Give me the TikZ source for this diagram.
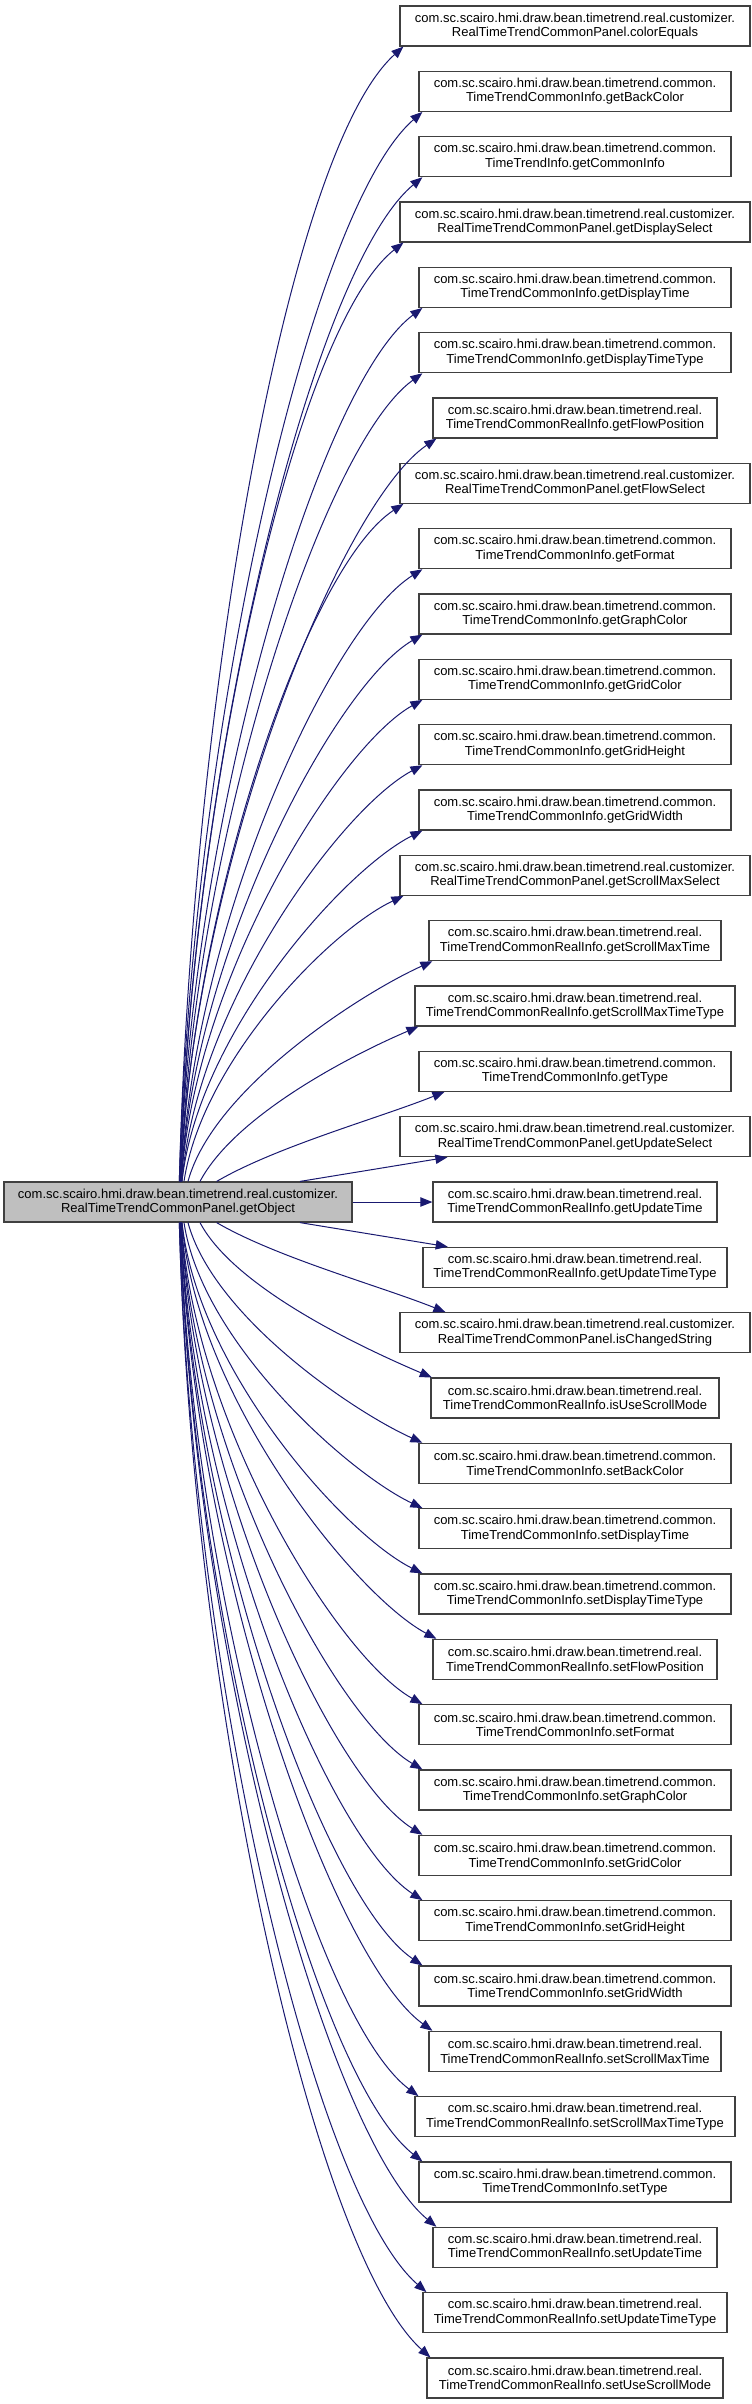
\documentclass[tikz,border=0pt]{standalone}
\usepackage{fontspec}
\setmainfont{Liberation Sans}
\usetikzlibrary{arrows.meta}
\definecolor{callblue}{HTML}{191970}
\definecolor{srcgray}{HTML}{BFBFBF}
\newcommand\fnfont{\fontsize{9.75}{10.75}\selectfont}
\tikzset{
  fn/.style={draw=black!75, line width=0.9pt, fill=white, align=center, inner sep=0pt,
    minimum height=30pt, minimum width=#1, font=\fnfont},
  src/.style={fn=261pt, fill=srcgray},
  call/.style={draw=callblue, line width=0.75pt, -{Triangle[length=9pt,width=7pt,fill=callblue]}}
}
\begin{document}
\begin{tikzpicture}[x=0.75pt,y=-0.75pt]
\useasboundingbox (0,0) rectangle (752,2404);
\node[src] (src) at (178,1202) {com.sc.scairo.hmi.draw.bean.timetrend.real.customizer.\\RealTimeTrendCommonPanel.getObject};
\node[fn=262.5pt] (t0) at (575,26) {com.sc.scairo.hmi.draw.bean.timetrend.real.customizer.\\RealTimeTrendCommonPanel.colorEquals};
\node[fn=234pt] (t1) at (575,91.33) {com.sc.scairo.hmi.draw.bean.timetrend.common.\\TimeTrendCommonInfo.getBackColor};
\node[fn=234pt] (t2) at (575,156.67) {com.sc.scairo.hmi.draw.bean.timetrend.common.\\TimeTrendInfo.getCommonInfo};
\node[fn=262.5pt] (t3) at (575,222) {com.sc.scairo.hmi.draw.bean.timetrend.real.customizer.\\RealTimeTrendCommonPanel.getDisplaySelect};
\node[fn=234pt] (t4) at (575,287.33) {com.sc.scairo.hmi.draw.bean.timetrend.common.\\TimeTrendCommonInfo.getDisplayTime};
\node[fn=234pt] (t5) at (575,352.67) {com.sc.scairo.hmi.draw.bean.timetrend.common.\\TimeTrendCommonInfo.getDisplayTimeType};
\node[fn=213pt] (t6) at (575,418) {com.sc.scairo.hmi.draw.bean.timetrend.real.\\TimeTrendCommonRealInfo.getFlowPosition};
\node[fn=262.5pt] (t7) at (575,483.33) {com.sc.scairo.hmi.draw.bean.timetrend.real.customizer.\\RealTimeTrendCommonPanel.getFlowSelect};
\node[fn=234pt] (t8) at (575,548.67) {com.sc.scairo.hmi.draw.bean.timetrend.common.\\TimeTrendCommonInfo.getFormat};
\node[fn=234pt] (t9) at (575,614) {com.sc.scairo.hmi.draw.bean.timetrend.common.\\TimeTrendCommonInfo.getGraphColor};
\node[fn=234pt] (t10) at (575,679.33) {com.sc.scairo.hmi.draw.bean.timetrend.common.\\TimeTrendCommonInfo.getGridColor};
\node[fn=234pt] (t11) at (575,744.67) {com.sc.scairo.hmi.draw.bean.timetrend.common.\\TimeTrendCommonInfo.getGridHeight};
\node[fn=234pt] (t12) at (575,810) {com.sc.scairo.hmi.draw.bean.timetrend.common.\\TimeTrendCommonInfo.getGridWidth};
\node[fn=262.5pt] (t13) at (575,875.33) {com.sc.scairo.hmi.draw.bean.timetrend.real.customizer.\\RealTimeTrendCommonPanel.getScrollMaxSelect};
\node[fn=219pt] (t14) at (575,940.67) {com.sc.scairo.hmi.draw.bean.timetrend.real.\\TimeTrendCommonRealInfo.getScrollMaxTime};
\node[fn=240pt] (t15) at (575,1006) {com.sc.scairo.hmi.draw.bean.timetrend.real.\\TimeTrendCommonRealInfo.getScrollMaxTimeType};
\node[fn=234pt] (t16) at (575,1071.33) {com.sc.scairo.hmi.draw.bean.timetrend.common.\\TimeTrendCommonInfo.getType};
\node[fn=262.5pt] (t17) at (575,1136.67) {com.sc.scairo.hmi.draw.bean.timetrend.real.customizer.\\RealTimeTrendCommonPanel.getUpdateSelect};
\node[fn=213pt] (t18) at (575,1202) {com.sc.scairo.hmi.draw.bean.timetrend.real.\\TimeTrendCommonRealInfo.getUpdateTime};
\node[fn=228pt] (t19) at (575,1267.33) {com.sc.scairo.hmi.draw.bean.timetrend.real.\\TimeTrendCommonRealInfo.getUpdateTimeType};
\node[fn=262.5pt] (t20) at (575,1332.67) {com.sc.scairo.hmi.draw.bean.timetrend.real.customizer.\\RealTimeTrendCommonPanel.isChangedString};
\node[fn=216pt] (t21) at (575,1398) {com.sc.scairo.hmi.draw.bean.timetrend.real.\\TimeTrendCommonRealInfo.isUseScrollMode};
\node[fn=234pt] (t22) at (575,1463.33) {com.sc.scairo.hmi.draw.bean.timetrend.common.\\TimeTrendCommonInfo.setBackColor};
\node[fn=234pt] (t23) at (575,1528.67) {com.sc.scairo.hmi.draw.bean.timetrend.common.\\TimeTrendCommonInfo.setDisplayTime};
\node[fn=234pt] (t24) at (575,1594) {com.sc.scairo.hmi.draw.bean.timetrend.common.\\TimeTrendCommonInfo.setDisplayTimeType};
\node[fn=213pt] (t25) at (575,1659.33) {com.sc.scairo.hmi.draw.bean.timetrend.real.\\TimeTrendCommonRealInfo.setFlowPosition};
\node[fn=234pt] (t26) at (575,1724.67) {com.sc.scairo.hmi.draw.bean.timetrend.common.\\TimeTrendCommonInfo.setFormat};
\node[fn=234pt] (t27) at (575,1790) {com.sc.scairo.hmi.draw.bean.timetrend.common.\\TimeTrendCommonInfo.setGraphColor};
\node[fn=234pt] (t28) at (575,1855.33) {com.sc.scairo.hmi.draw.bean.timetrend.common.\\TimeTrendCommonInfo.setGridColor};
\node[fn=234pt] (t29) at (575,1920.67) {com.sc.scairo.hmi.draw.bean.timetrend.common.\\TimeTrendCommonInfo.setGridHeight};
\node[fn=234pt] (t30) at (575,1986) {com.sc.scairo.hmi.draw.bean.timetrend.common.\\TimeTrendCommonInfo.setGridWidth};
\node[fn=219pt] (t31) at (575,2051.33) {com.sc.scairo.hmi.draw.bean.timetrend.real.\\TimeTrendCommonRealInfo.setScrollMaxTime};
\node[fn=240pt] (t32) at (575,2116.67) {com.sc.scairo.hmi.draw.bean.timetrend.real.\\TimeTrendCommonRealInfo.setScrollMaxTimeType};
\node[fn=234pt] (t33) at (575,2182) {com.sc.scairo.hmi.draw.bean.timetrend.common.\\TimeTrendCommonInfo.setType};
\node[fn=213pt] (t34) at (575,2247.33) {com.sc.scairo.hmi.draw.bean.timetrend.real.\\TimeTrendCommonRealInfo.setUpdateTime};
\node[fn=228pt] (t35) at (575,2312.67) {com.sc.scairo.hmi.draw.bean.timetrend.real.\\TimeTrendCommonRealInfo.setUpdateTimeType};
\node[fn=222pt] (t36) at (575,2378) {com.sc.scairo.hmi.draw.bean.timetrend.real.\\TimeTrendCommonRealInfo.setUseScrollMode};
\draw[call] ([xshift=1pt]src.north) .. controls +(12,-477) and +(-117,105) .. ([xshift=3pt]t0.south west);
\draw[call] ([xshift=1pt]src.north) .. controls +(12,-450) and +(-113,98) .. ([xshift=3pt]t1.south west);
\draw[call] ([xshift=1.5pt]src.north) .. controls +(12,-422) and +(-110,91) .. ([xshift=3pt]t2.south west);
\draw[call] ([xshift=1.5pt]src.north) .. controls +(12,-395) and +(-107,84) .. ([xshift=3pt]t3.south west);
\draw[call] ([xshift=1.5pt]src.north) .. controls +(12,-367) and +(-104,78) .. ([xshift=3pt]t4.south west);
\draw[call] ([xshift=2pt]src.north) .. controls +(12,-340) and +(-100,72) .. ([xshift=3pt]t5.south west);
\draw[call] ([xshift=2pt]src.north) .. controls +(12,-312) and +(-97,66) .. ([xshift=3pt]t6.south west);
\draw[call] ([xshift=2pt]src.north) .. controls +(12,-285) and +(-94,61) .. ([xshift=3pt]t7.south west);
\draw[call] ([xshift=2.5pt]src.north) .. controls +(12,-258) and +(-91,57) .. ([xshift=3pt]t8.south west);
\draw[call] ([xshift=2.5pt]src.north) .. controls +(12,-230) and +(-87,51) .. ([xshift=3pt]t9.south west);
\draw[call] ([xshift=2.5pt]src.north) .. controls +(13,-203) and +(-84,47) .. ([xshift=3pt]t10.south west);
\draw[call] ([xshift=3pt]src.north) .. controls +(14,-175) and +(-81,43) .. ([xshift=3pt]t11.south west);
\draw[call] ([xshift=3pt]src.north) .. controls +(16,-148) and +(-78,39) .. ([xshift=3pt]t12.south west);
\draw[call] ([xshift=4.5pt]src.north) .. controls +(18,-120) and +(-74,35) .. ([xshift=3pt]t13.south west);
\draw[call] ([xshift=7.5pt]src.north) .. controls +(25,-93) and +(-71,32) .. ([xshift=3pt]t14.south west);
\draw[call] ([xshift=16.5pt]src.north) .. controls +(35,-66) and +(-68,29) .. ([xshift=3pt]t15.south west);
\draw[call] ([xshift=29pt]src.north) .. controls +(60,-35) and +(-65,26) .. ([xshift=19.5pt]t16.south west);
\draw[call] ([xshift=91.5pt]src.north) -- ([xshift=36pt]t17.south west);
\draw[call] (src) -- (t18);
\draw[call] ([xshift=91.5pt]src.south) -- ([xshift=19pt]t19.north west);
\draw[call] ([xshift=29pt]src.south) .. controls +(60,35) and +(-65,-26) .. ([xshift=34.5pt]t20.north west);
\draw[call] ([xshift=16.5pt]src.south) .. controls +(35,66) and +(-68,-29) .. ([xshift=1pt]t21.north west);
\draw[call] ([xshift=7.5pt]src.south) .. controls +(25,93) and +(-71,-32) .. ([xshift=3pt]t22.north west);
\draw[call] ([xshift=4.5pt]src.south) .. controls +(18,120) and +(-74,-35) .. ([xshift=3pt]t23.north west);
\draw[call] ([xshift=3pt]src.south) .. controls +(16,148) and +(-78,-39) .. ([xshift=3pt]t24.north west);
\draw[call] ([xshift=3pt]src.south) .. controls +(14,175) and +(-81,-43) .. ([xshift=3pt]t25.north west);
\draw[call] ([xshift=2.5pt]src.south) .. controls +(13,203) and +(-84,-47) .. ([xshift=3pt]t26.north west);
\draw[call] ([xshift=2.5pt]src.south) .. controls +(12,230) and +(-87,-51) .. ([xshift=3pt]t27.north west);
\draw[call] ([xshift=2.5pt]src.south) .. controls +(12,258) and +(-91,-57) .. ([xshift=3pt]t28.north west);
\draw[call] ([xshift=2pt]src.south) .. controls +(12,285) and +(-94,-61) .. ([xshift=3pt]t29.north west);
\draw[call] ([xshift=2pt]src.south) .. controls +(12,312) and +(-97,-66) .. ([xshift=3pt]t30.north west);
\draw[call] ([xshift=2pt]src.south) .. controls +(12,340) and +(-100,-72) .. ([xshift=3pt]t31.north west);
\draw[call] ([xshift=1.5pt]src.south) .. controls +(12,367) and +(-104,-78) .. ([xshift=3pt]t32.north west);
\draw[call] ([xshift=1.5pt]src.south) .. controls +(12,395) and +(-107,-84) .. ([xshift=3pt]t33.north west);
\draw[call] ([xshift=1.5pt]src.south) .. controls +(12,422) and +(-110,-91) .. ([xshift=3pt]t34.north west);
\draw[call] ([xshift=1pt]src.south) .. controls +(12,450) and +(-113,-98) .. ([xshift=3pt]t35.north west);
\draw[call] ([xshift=1pt]src.south) .. controls +(12,477) and +(-117,-105) .. ([xshift=3pt]t36.north west);
\end{tikzpicture}
\end{document}
